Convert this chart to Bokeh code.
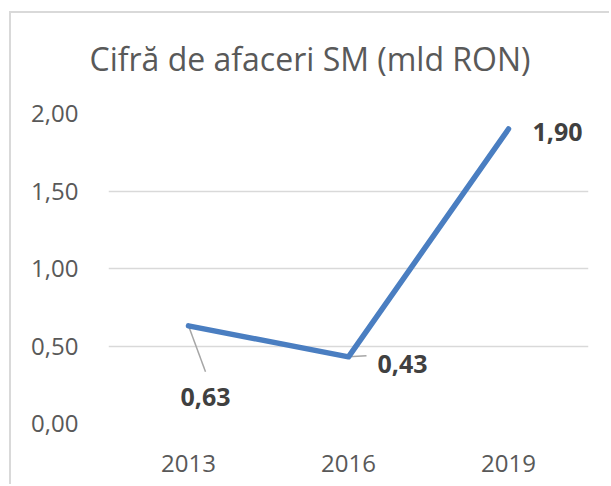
from bokeh.plotting import figure
from bokeh.models import Range1d, FixedTicker, ColumnDataSource
from bokeh.core.properties import value
from bokeh.embed import file_html
from bokeh.resources import INLINE

# ---- data ----
years = ["2013", "2016", "2019"]
turnover = [0.63, 0.43, 1.90]
value_labels = ["0,63", "0,43", "1,90"]
y_ticks = [0.0, 0.5, 1.0, 1.5, 2.0]
y_tick_labels = ["0,00", "0,50", "1,00", "1,50", "2,00"]
title_text = "Cifră de afaceri SM (mld RON)"

# label placement (pixels, screen: +x right, +y down)
label_dx = [17, 54, 49]
label_dy = [71, 7, 3]
# leader lines (pixels from point)
leader_dx = [17, 18, 0]
leader_dy = [46, -1, 0]
has_leader = [True, True, False]

FONT = "Open Sans"
GRAY = "#595959"
BORDER = "#d9d9d9"

W, H = 600, 484
ML, MR, MT, MB = 99, 21, 113, 61
p = figure(width=W, height=H, output_backend="svg", toolbar_location=None,
           x_range=Range1d(0, len(years)), y_range=Range1d(0, 2.0),
           min_border_left=ML, min_border_right=MR, min_border_top=MT,
           min_border_bottom=MB, title=title_text, margin=(0, 0, 0, 9))
p.styles = {
    "background": (f"linear-gradient({BORDER}, {BORDER}) 0 11px / 100% 2px no-repeat, "
                   f"linear-gradient({BORDER}, {BORDER}) 0 11px / 2px 100% no-repeat, white"),
}
p.outline_line_color = None
p.background_fill_color = "white"
p.border_fill_color = None

p.title.text_font = FONT
p.title.text_font_size = "32px"
p.title.text_font_style = "normal"
p.title.text_color = GRAY
p.title.align = "left"
p.title.offset = -19
p.title.standoff = 67

xs = [i + 0.5 for i in range(len(years))]

# axes
p.xaxis.ticker = FixedTicker(ticks=xs)
p.xaxis.major_label_overrides = {x: y for x, y in zip(xs, years)}
p.yaxis.ticker = FixedTicker(ticks=y_ticks)
p.yaxis.major_label_overrides = {t: l for t, l in zip(y_ticks, y_tick_labels)}
for ax in (p.xaxis, p.yaxis):
    ax.axis_line_color = None
    ax.major_tick_line_color = None
    ax.minor_tick_line_color = None
    ax.major_label_text_font = FONT
    ax.major_label_text_font_size = "24px"
    ax.major_label_text_color = GRAY
p.yaxis.major_label_standoff = 24
p.xaxis.major_label_standoff = 25

p.xgrid.grid_line_color = None
p.ygrid.ticker = FixedTicker(ticks=y_ticks)
p.ygrid.grid_line_color = BORDER
p.ygrid.grid_line_width = 1.5

# leader lines: convert pixel offsets to data units
px_per_x = (W - ML - MR) / len(years)
px_per_y = (H - MT - MB) / 2.0
lx0, ly0, lx1, ly1 = [], [], [], []
for x, y, dx, dy, h in zip(xs, turnover, leader_dx, leader_dy, has_leader):
    if h:
        lx0.append(x); ly0.append(y)
        lx1.append(x + dx / px_per_x); ly1.append(y - dy / px_per_y)
p.segment(x0=lx0, y0=ly0, x1=lx1, y1=ly1, line_color="#a6a6a6", line_width=1.5)

src = ColumnDataSource(dict(x=xs, y=turnover, lab=value_labels, dx=label_dx, dy=label_dy))
p.line("x", "y", source=src, line_color="#4a7ec1", line_width=5.5,
       line_cap="round", line_join="round")
p.text("x", "y", text="lab", source=src, x_offset="dx", y_offset="dy",
       text_font=value(FONT), text_font_style="bold", text_font_size="25px",
       text_color="#404040", text_align="center", text_baseline="middle")

open("out.html", "w").write(file_html(p, INLINE))
